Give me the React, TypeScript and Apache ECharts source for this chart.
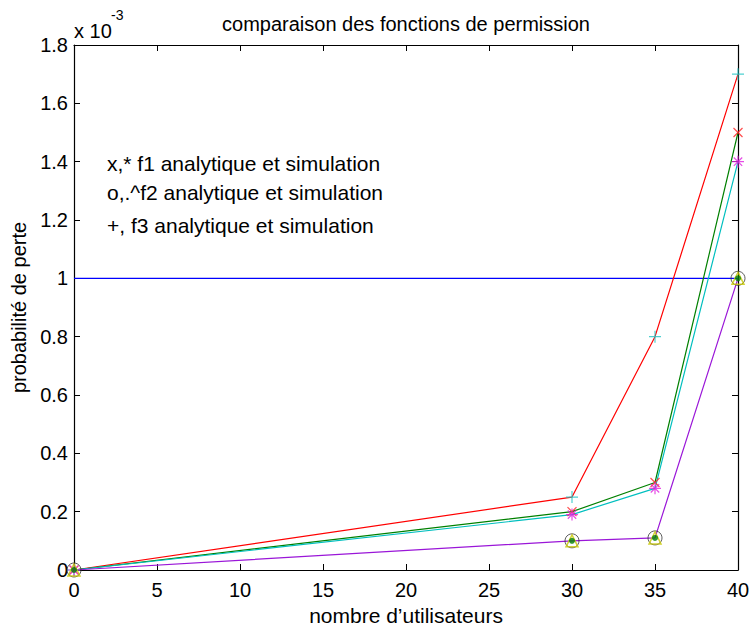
import React, { useEffect, useRef } from "react";
import * as echarts from "echarts";

const xTicks = [0, 5, 10, 15, 20, 25, 30, 35, 40];
const yTicks = [0, 0.2, 0.4, 0.6, 0.8, 1, 1.2, 1.4, 1.6, 1.8];
const users = [0, 30, 35, 40];
const redLine = [0, 0.25, 0.8, 1.7];
const greenLine = [0, 0.2, 0.3, 1.5];
const cyanLine = [0, 0.19, 0.28, 1.4];
const purpleLine = [0, 0.1, 0.11, 1.0];
const blueLevel = [1, 1];
const blueX = [0, 40];
const legendLines = [
  "x,* f1 analytique et simulation",
  "o,.^f2 analytique et simulation",
  "+, f3 analytique et simulation",
];
const titleText = "comparaison des fonctions de permission";
const xName = "nombre d\u2019utilisateurs";
const yName = "probabilit\u00e9 de perte";

const FONT = "Liberation Sans, Arial, sans-serif";
const PLUS = "path://M5,0L5,10M0,5L10,5";
const CROSS = "path://M0,0L10,10M10,0L0,10";
const STAR = "path://M5,0L5,10M0,5L10,5M1.5,1.5L8.5,8.5M8.5,1.5L1.5,8.5";

const pairs = (xs: number[], ys: number[]) => xs.map((x, i) => [x, ys[i]]);

export default function App() {
  const ref = useRef<HTMLDivElement>(null);
  useEffect(() => {
    const chart = echarts.init(ref.current!, null, { renderer: "svg" });
    const L = 74, R = 738, T = 45, B = 570;
    const lineSeries = (data: number[][], color: string) => ({
      type: "line",
      data,
      showSymbol: false,
      symbol: "none",
      lineStyle: { color, width: 1.2 },
      silent: true,
    });
    const markSeries = (data: number[][], symbol: string, color: string, size: number, fill = "none", bw = 1.2) => ({
      type: "scatter",
      data,
      symbol,
      symbolSize: size,
      itemStyle: { color: fill, borderColor: color, borderWidth: bw },
      silent: true,
      z: 5,
    });
    chart.setOption({
      animation: false,
      backgroundColor: "#ffffff",
      grid: { left: L, right: 754 - R, top: T, bottom: 631 - B, containLabel: false },
      xAxis: [
        {
          type: "value", min: 0, max: 40, interval: 5,
          axisLine: { show: true, lineStyle: { color: "#000", width: 1.2 } },
          axisTick: { show: true, inside: true, length: 6, lineStyle: { color: "#000" } },
          axisLabel: { color: "#000", fontSize: 20, fontFamily: FONT, margin: 10 },
          splitLine: { show: false },
          name: xName, nameLocation: "middle", nameGap: 21,
          nameTextStyle: { color: "#000", fontSize: 21, fontFamily: FONT },
        },
        {
          type: "value", min: 0, max: 40, interval: 5, position: "top",
          axisLine: { show: true, onZero: false, lineStyle: { color: "#000", width: 1.2 } },
          axisTick: { show: true, inside: true, length: 6, lineStyle: { color: "#000" } },
          axisLabel: { show: false }, splitLine: { show: false },
        },
      ],
      yAxis: [
        {
          type: "value", min: 0, max: 1.8, interval: 0.2,
          axisLine: { show: true, lineStyle: { color: "#000", width: 1.2 } },
          axisTick: { show: true, inside: true, length: 6, lineStyle: { color: "#000" } },
          axisLabel: {
            color: "#000", fontSize: 20, fontFamily: FONT, margin: 6,
            formatter: (v: number) => String(Math.round(v * 10) / 10),
          },
          splitLine: { show: false },
          name: yName, nameLocation: "middle", nameGap: 39, nameRotate: 90,
          nameTextStyle: { color: "#000", fontSize: 20, fontFamily: FONT },
        },
        {
          type: "value", min: 0, max: 1.8, interval: 0.2, position: "right",
          axisLine: { show: true, onZero: false, lineStyle: { color: "#000", width: 1.2 } },
          axisTick: { show: true, inside: true, length: 6, lineStyle: { color: "#000" } },
          axisLabel: { show: false }, splitLine: { show: false },
        },
      ],
      series: [
        lineSeries(pairs(blueX, blueLevel), "#0000ff"),
        lineSeries(pairs(users, redLine), "#ff0000"),
        lineSeries(pairs(users, greenLine), "#008000"),
        lineSeries(pairs(users, cyanLine), "#00bfbf"),
        lineSeries(pairs(users, purpleLine), "#9a16d8"),
        markSeries(pairs(users, redLine), PLUS, "#22c4c4", 12),
        markSeries(pairs(users, greenLine), CROSS, "#ff2020", 9),
        markSeries(pairs(users, cyanLine), STAR, "#e020e0", 12),
        markSeries(pairs(users, purpleLine), "circle", "#333333", 14, "none", 1),
        markSeries(pairs(users, purpleLine), "triangle", "#c8c800", 12, "none", 1.5),
        markSeries(pairs(users, purpleLine), "circle", "#008000", 6, "#008000", 0),
      ],
      graphic: [
        {
          type: "text", x: (L + R) / 2, y: 24,
          style: { text: titleText, fill: "#000", font: `20px ${FONT}`, textAlign: "center", textVerticalAlign: "middle" },
        },
        {
          type: "text", x: 74, y: 31,
          style: { text: "x 10", fill: "#000", font: `20px ${FONT}`, textAlign: "left", textVerticalAlign: "middle" },
        },
        {
          type: "text", x: 111, y: 15,
          style: { text: "-3", fill: "#000", font: `14px ${FONT}`, textAlign: "left", textVerticalAlign: "middle" },
        },
        ...legendLines.map((t, i) => ({
          type: "text", x: 107, y: [163, 192, 225][i],
          style: { text: t, fill: "#000", font: `21px ${FONT}`, textAlign: "left", textVerticalAlign: "middle" },
        })),
      ],
    });
    return () => chart.dispose();
  }, []);
  return (
    <div
      ref={ref}
      style={{ position: "fixed", left: 0, top: 0, width: 754, height: 631, background: "#fff" }}
    />
  );
}
